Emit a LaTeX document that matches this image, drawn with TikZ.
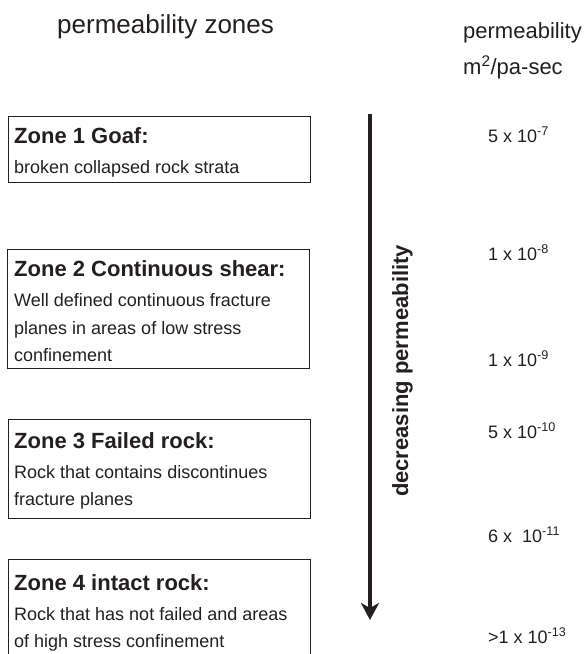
\documentclass[tikz,border=0pt]{standalone}
\usepackage{fontspec}
\setmainfont{Liberation Sans}
\definecolor{inkblack}{RGB}{35,31,32}
\usetikzlibrary{arrows.meta}

\begin{document}
\begin{tikzpicture}[x=1pt, y=-1pt,
  every node/.style={inner sep=0pt, text=inkblack},
  zonebox/.style={draw=inkblack, line width=1.2pt, anchor=north west, minimum width=302pt},
  zonetitle/.style={anchor=base west, font=\fontsize{22}{26}\selectfont\bfseries},
  zonetext/.style={anchor=base west, font=\fontsize{18}{22}\selectfont},
  permval/.style={anchor=base west, font=\fontsize{18}{22}\selectfont}]
  \useasboundingbox (0,0) rectangle (585,654);
  \clip (0,0) rectangle (585,654);

  % headings
  \node[anchor=base west, font=\fontsize{26}{30}\selectfont] (zoneshead) at (57,33) {permeability zones};
  \node[anchor=base west, font=\fontsize{22}{26}\selectfont] (permhead) at (463,38) {permeability};
  \node[anchor=base west, font=\fontsize{22}{26}\selectfont] (unithead) at (463,74) {m\textsuperscript{2}/pa-sec};

  % zone boxes
  \node[zonebox, minimum height=66pt] (zone1) at (8,116) {};
  \node[zonebox, minimum height=119pt] (zone2) at (7,249) {};
  \node[zonebox, minimum height=99pt] (zone3) at (8,419) {};
  \node[zonebox, minimum height=110pt] (zone4) at (8,559) {};

  % box titles
  \node[zonetitle] (title1) at (14,143) {Zone 1 Goaf:};
  \node[zonetitle] (title2) at (14,276) {Zone 2 Continuous shear:};
  \node[zonetitle] (title3) at (14,448) {Zone 3 Failed rock:};
  \node[zonetitle] (title4) at (14,590) {Zone 4 intact rock:};

  % box texts
  \foreach \y/\txt [count=\i] in {173/broken collapsed rock strata,
      306.5/Well defined continuous fracture, 334/planes in areas of low stress, 361.5/confinement,
      478.5/Rock that contains discontinues, 505/fracture planes,
      620.5/Rock that has not failed and areas, 647/of high stress confinement}{
    \node[zonetext] (line\i) at (14,\y) {\txt};
  }

  % arrow
  \coordinate (arrowtop) at (370,114);
  \coordinate (arrowtip) at (370,620);
  \draw[line width=3.3pt, inkblack, -{Stealth[length=17pt, width=18pt, inset=5pt]}] (arrowtop) -- (arrowtip);
  \node[rotate=90, anchor=base, font=\fontsize{22}{26}\selectfont\bfseries] (decr) at (408,371) {decreasing permeability};

  % permeability values
  \foreach \y/\val [count=\i] in {142/5 x 10\textsuperscript{-7}, 260/1 x 10\textsuperscript{-8},
      366/1 x 10\textsuperscript{-9}, 438/5 x 10\textsuperscript{-10},
      542/6 x \ 10\textsuperscript{-11}, 643/>1 x 10\textsuperscript{-13}}{
    \node[permval] (val\i) at (488,\y) {\val};
  }
\end{tikzpicture}
\end{document}
